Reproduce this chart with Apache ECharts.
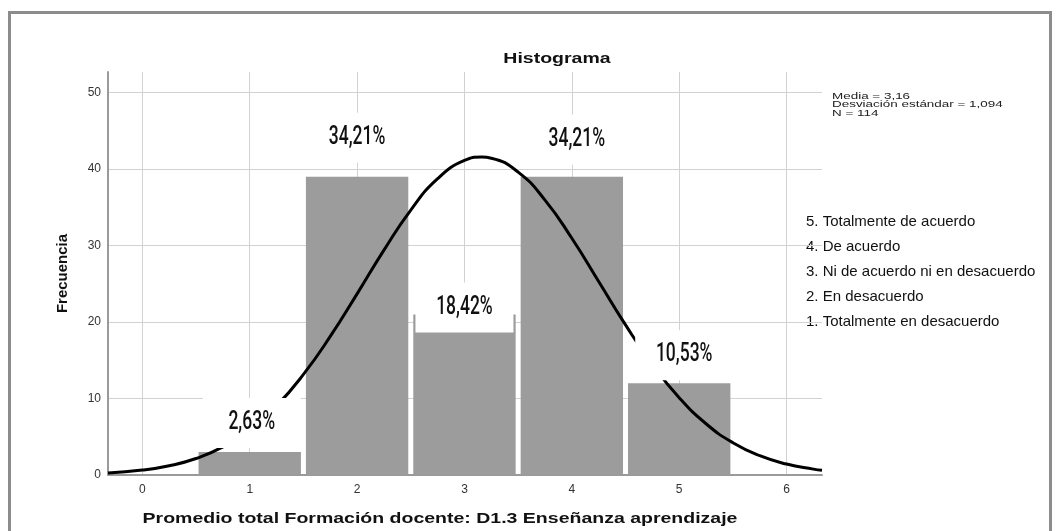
<!DOCTYPE html>
<html>
<head>
<meta charset="utf-8">
<title>Histograma</title>
<script src="https://cdn.jsdelivr.net/npm/echarts@6/dist/echarts.min.js"></script>
<style>
  html, body { margin: 0; padding: 0; background: #fff; }
  #chart { width: 1060px; height: 531px; }
</style>
</head>
<body>
<div id="chart"></div>
<script>
const binCenters = [1, 2, 3, 4, 5];
const frequencies = [3, 39, 21, 39, 12];
const percentLabels = ['2,63%', '34,21%', '18,42%', '34,21%', '10,53%'];

// curva normal
const curveX = [-0.32, 0, 0.25, 0.5, 0.75, 1, 1.25, 1.5, 1.75, 2, 2.25, 2.5, 2.75, 3, 3.16, 3.25, 3.5, 3.75, 4, 4.25, 4.5, 4.75, 5, 5.25, 5.5, 5.75, 6, 6.25, 6.33];
const curveY = [0.26, 0.64, 1.21, 2.16, 3.67, 5.92, 9.05, 13.15, 18.12, 23.69, 29.41, 34.65, 38.75, 41.13, 41.57, 41.43, 39.61, 35.95, 30.96, 25.31, 19.63, 14.46, 10.11, 6.70, 4.22, 2.52, 1.43, 0.77, 0.62];

const yTicks = [0, 10, 20, 30, 40, 50];
const statsLines = ['Media = 3,16', 'Desviación estándar = 1,094', 'N = 114'];
const scaleNotes = [
  '5. Totalmente de acuerdo',
  '4. De acuerdo',
  '3. Ni de acuerdo ni en desacuerdo',
  '2. En desacuerdo',
  '1. Totalmente en desacuerdo'
];
const chartTitle = 'Histograma';
const xTitle = 'Promedio total Formación docente: D1.3 Enseñanza aprendizaje';
const yTitle = 'Frecuencia';

const sans = "'Liberation Sans', Arial, Helvetica, sans-serif";

// desplazamiento de cada etiqueta respecto a la parte superior de su barra (px)
const labelOffsets = [[2, -29], [0, -39], [0, -7], [5, -37], [5, -28]];

const chart = echarts.init(document.getElementById('chart'));

const baseGraphics = [
  {
    id: 'frame',
    type: 'rect',
    shape: { x: 9.5, y: 12.5, width: 1041, height: 560 },
    style: { fill: null, stroke: '#8c8c8c', lineWidth: 3 },
    silent: true
  },
  {
    id: 'title',
    type: 'text',
    x: 557, y: 59,
    scaleX: 1.3,
    style: {
      text: chartTitle, fill: '#111', font: 'bold 15px ' + sans,
      textAlign: 'center', textVerticalAlign: 'middle'
    }
  },
  {
    id: 'xTitle',
    type: 'text',
    x: 440, y: 519,
    scaleX: 1.3,
    style: {
      text: xTitle, fill: '#111', font: 'bold 15px ' + sans,
      textAlign: 'center', textVerticalAlign: 'middle'
    }
  },
  {
    id: 'stats',
    type: 'text',
    x: 832, y: 92,
    scaleX: 1.12,
    scaleY: 0.78,
    style: {
      text: statsLines.join('\n'), fill: '#222', font: '12px ' + sans,
      lineHeight: 11, textAlign: 'left', textVerticalAlign: 'top'
    }
  },
  {
    id: 'notes',
    type: 'text',
    x: 806, y: 209.5,
    style: {
      text: scaleNotes.join('\n'), fill: '#111', font: '15px ' + sans,
      lineHeight: 25, textAlign: 'left', textVerticalAlign: 'top'
    }
  }
];

const option = {
  animation: false,
  backgroundColor: '#fff',
  grid: { left: 108, right: 238, top: 72, bottom: 56 },
  xAxis: {
    type: 'value',
    min: -0.32,
    max: 6.33,
    minInterval: 1,
    maxInterval: 1,
    axisLine: { onZero: false, lineStyle: { color: '#9a9a9a', width: 2 } },
    axisTick: { show: false },
    axisLabel: {
      margin: 9,
      color: '#333',
      fontSize: 12,
      fontFamily: sans,
      showMinLabel: false,
      showMaxLabel: false,
      formatter: v => (Number.isInteger(v) ? String(v) : '')
    },
    splitLine: {
      show: true,
      showMinLine: false,
      showMaxLine: false,
      lineStyle: { color: '#d2d2d2', width: 1 }
    }
  },
  yAxis: {
    type: 'value',
    min: 0,
    max: 52.7,
    interval: 10,
    name: yTitle,
    nameLocation: 'middle',
    nameGap: 38,
    nameTextStyle: { fontSize: 15, fontWeight: 'bold', color: '#111', fontFamily: sans },
    axisLine: { show: true, onZero: false, lineStyle: { color: '#9a9a9a', width: 2 } },
    axisTick: { show: false },
    axisLabel: {
      margin: 7,
      color: '#333',
      fontSize: 12,
      fontFamily: sans,
      showMaxLabel: false,
      formatter: v => (yTicks.includes(v) ? String(v) : '')
    },
    splitLine: {
      show: true,
      showMaxLine: false,
      lineStyle: { color: '#d2d2d2', width: 1 }
    }
  },
  series: [
    {
      name: 'Frecuencia',
      type: 'custom',
      z: 2,
      encode: { x: 0, y: 1 },
      data: binCenters.map((x, i) => [x, frequencies[i]]),
      renderItem: function (params, api) {
        const x = api.value(0);
        const y = api.value(1);
        const topLeft = api.coord([x - 0.5, y]);
        const bottomRight = api.coord([x + 0.5, 0]);
        return {
          type: 'rect',
          shape: {
            x: topLeft[0] + 2.5,
            y: topLeft[1],
            width: bottomRight[0] - topLeft[0] - 5,
            height: bottomRight[1] - topLeft[1]
          },
          style: { fill: '#9c9c9c' }
        };
      }
    },
    {
      name: 'Normal',
      type: 'line',
      z: 3,
      smooth: true,
      symbol: 'none',
      data: curveX.map((x, i) => [x, curveY[i]]),
      lineStyle: { color: '#000', width: 3 }
    }
  ]
};

chart.setOption(option);

// etiquetas de porcentaje con fondo blanco, situadas sobre cada barra
const percentBoxes = binCenters.map((x, i) => {
  const p = chart.convertToPixel({ gridIndex: 0 }, [x, frequencies[i]]);
  return {
    id: 'pct' + i,
    type: 'group',
    x: p[0] + labelOffsets[i][0],
    y: p[1] + labelOffsets[i][1],
    children: [
      {
        type: 'rect',
        z: 100,
        shape: { x: -49, y: -25, width: 98, height: 50 },
        style: { fill: '#fff' }
      },
      {
        type: 'text',
        z: 101,
        scaleX: 0.7,
        style: {
          text: percentLabels[i], fill: '#111',
          font: '500 25px Roboto, sans-serif',
          textAlign: 'center', textVerticalAlign: 'middle'
        }
      }
    ]
  };
});

option.graphic = baseGraphics.concat(percentBoxes);
chart.setOption(option, true);
</script>
</body>
</html>
